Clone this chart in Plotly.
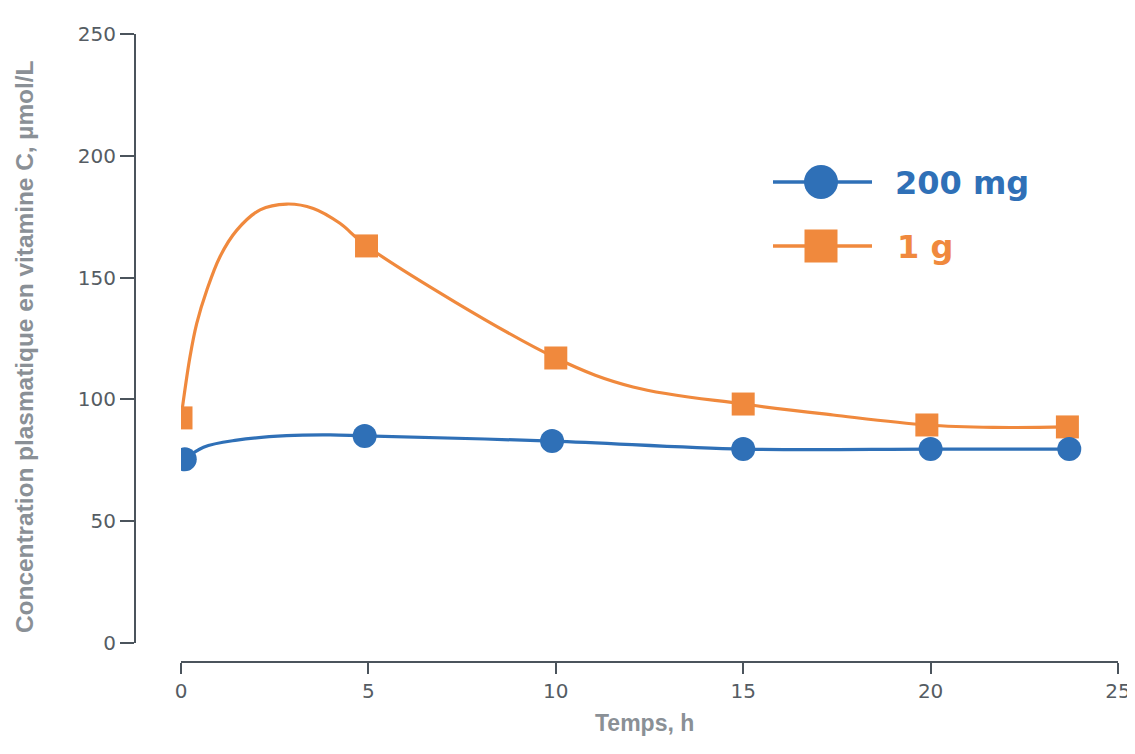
import plotly.graph_objects as go

# measured points (markers)
low_x = [0.1, 4.9, 9.9, 15.0, 20.0, 23.7]
low_y = [75.4, 85.0, 82.9, 79.6, 79.6, 79.6]
high_x = [0.0, 4.95, 10.0, 15.0, 19.9, 23.65]
high_y = [92.4, 163.0, 117.0, 98.1, 89.5, 88.7]

# smoothed curves as drawn on the original figure
low_curve_x = [0.1, 0.6, 1.49, 2.82, 3.98, 4.9, 9.9, 15.0, 20.0, 23.7]
low_curve_y = [75.4, 80.4, 83.3, 85.1, 85.4, 85.0, 82.9, 79.6, 79.6, 79.6]
high_curve_x = [0.0, 0.24, 0.42, 0.69, 1.04, 1.49, 2.11, 2.82, 3.53, 4.24, 4.95,
                10.0, 12.06, 15.0, 17.4, 19.9, 21.67, 23.65]
high_curve_y = [92.4, 117.5, 131.2, 144.9, 158.6, 169.5, 177.8, 180.2, 178.4, 172.3, 163.0,
                117.0, 105.1, 98.1, 93.6, 89.5, 88.5, 88.7]

x_ticks = [0, 5, 10, 15, 20, 25]
y_ticks = [0, 50, 100, 150, 200, 250]

BLUE = "#2f70b7"
ORANGE = "#f0893d"
AXIS = "#4b545c"
TICK_TXT = "#555c63"
TITLE_TXT = "#8a9096"

# page body has an 8px margin, so the figure starts at (8, 8)
OFF = 8
W, H = 1135 - OFF, 754 - 2 * OFF


def px(x):
    return (x - OFF) / W


def py(y):
    return 1 - (y - OFF) / H


fig = go.Figure()

fig.add_trace(go.Scatter(x=high_curve_x, y=high_curve_y, mode="lines",
                         line=dict(color=ORANGE, width=3.2, shape="spline", smoothing=1),
                         hoverinfo="skip"))
fig.add_trace(go.Scatter(x=low_curve_x, y=low_curve_y, mode="lines",
                         line=dict(color=BLUE, width=3.2, shape="spline", smoothing=1),
                         hoverinfo="skip"))
fig.add_trace(go.Scatter(x=high_x, y=high_y, mode="markers", name="1 g",
                         marker=dict(symbol="square", size=23, color=ORANGE)))
fig.add_trace(go.Scatter(x=low_x, y=low_y, mode="markers", name="200 mg",
                         marker=dict(symbol="circle", size=24, color=BLUE)))

# hand drawn legend (big symbols, long lines)
shapes = []
annotations = []
for name, color, yc, sym, tx in [("200 mg", BLUE, 182, "circle", 893),
                                 ("1 g", ORANGE, 246, "rect", 895)]:
    shapes.append(dict(type="line", xref="paper", yref="paper",
                       x0=px(773), x1=px(872), y0=py(yc), y1=py(yc),
                       line=dict(color=color, width=3.5)))
    r = 17 if sym == "circle" else 16.5
    shapes.append(dict(type=sym, xref="paper", yref="paper",
                       xsizemode="pixel", ysizemode="pixel",
                       xanchor=px(821), yanchor=py(yc),
                       x0=-r, x1=r, y0=-r, y1=r,
                       fillcolor=color, line=dict(width=0)))
    annotations.append(dict(text="<b>%s</b>" % name, xref="paper", yref="paper",
                            x=px(tx), y=py(yc + 1), xanchor="left", yanchor="middle",
                            showarrow=False,
                            font=dict(family="DejaVu Sans", size=32, color=color)))

annotations.append(dict(text="<b>Concentration plasmatique en vitamine C, µmol/L</b>",
                        xref="paper", yref="paper", x=px(24), y=py(347),
                        xanchor="center", yanchor="middle",
                        textangle=-90, showarrow=False,
                        font=dict(family="Liberation Sans", size=24.4, color=TITLE_TXT)))
annotations.append(dict(text="<b>Temps, h</b>", xref="paper", yref="paper",
                        x=px(644), y=py(723), xanchor="center", yanchor="middle",
                        showarrow=False,
                        font=dict(family="Liberation Sans", size=23, color=TITLE_TXT)))

fig.update_layout(
    width=W, height=H,
    margin=dict(l=0, r=0, t=0, b=0),
    paper_bgcolor="white", plot_bgcolor="white",
    showlegend=False,
    shapes=shapes,
    annotations=annotations,
    xaxis=dict(domain=[px(181), px(1118)], range=[0, 25], anchor="free",
               position=py(662), tickvals=x_ticks, ticks="outside", ticklen=11,
               tickwidth=2, tickcolor=AXIS, showline=True, linecolor=AXIS, linewidth=2,
               showgrid=False, zeroline=False, automargin=False,
               ticklabeloverflow="allow",
               tickfont=dict(family="DejaVu Sans", size=20, color=TICK_TXT)),
    yaxis=dict(domain=[py(643), py(34)], range=[0, 250], anchor="free",
               position=px(135), tickvals=y_ticks, ticks="outside", ticklen=14,
               tickwidth=2, tickcolor=AXIS, showline=True, linecolor=AXIS, linewidth=2,
               showgrid=False, zeroline=False, automargin=False,
               tickfont=dict(family="DejaVu Sans", size=20, color=TICK_TXT)),
)

fig.write_html("out.html")
